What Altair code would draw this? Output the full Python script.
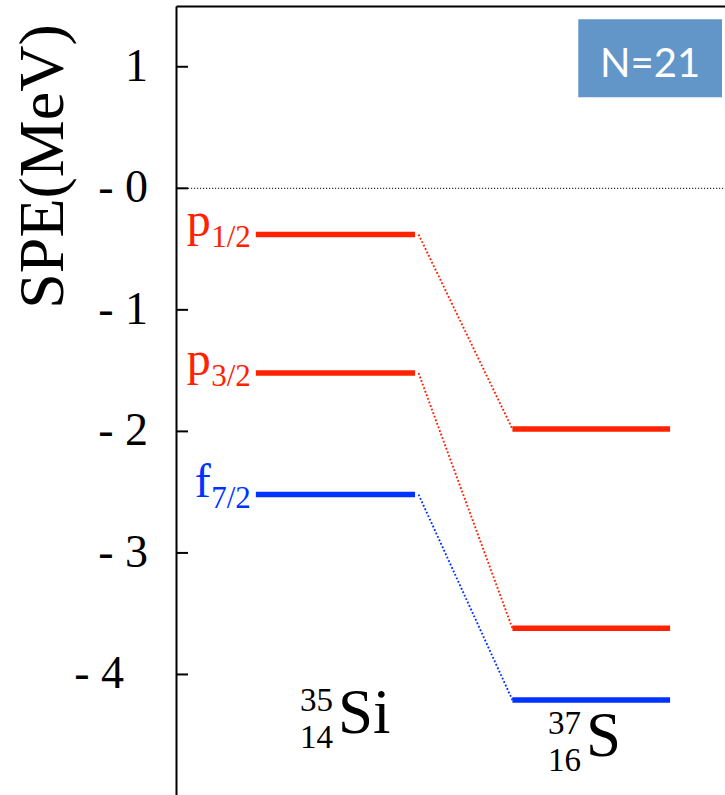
import altair as alt
import pandas as pd

# Single-particle energies (MeV) of the neutron orbitals above N=20
orbitals = ["p1/2", "p3/2", "f7/2"]
orbital_letter = ["p", "p", "f"]
orbital_j = ["1/2", "3/2", "7/2"]
orbital_color = ["#ff2200", "#ff2200", "#0033ff"]
spe_si35 = [-0.38, -1.52, -2.52]
spe_s37 = [-1.98, -3.62, -4.21]

# Nuclei shown in the two columns
nuc_mass = ["35", "37"]
nuc_z = ["14", "16"]
nuc_symbol = ["Si", "S"]

# Energy axis ticks and their printed labels
y_ticks = [1, 0, -1, -2, -3, -4]
y_tick_labels = ["1", "- 0", "- 1", "- 2", "- 3", "- 4"]
panel_tag = "N=21"

# Layout (x in column units, y in MeV)
X_DOMAIN = [0, 5.5]
Y_DOMAIN = [-5, 1.5]
SI_COL = (0.80, 2.395)
S_COL = (3.37, 4.95)
LINK_GAP = 0.035
NUC_X = [1.623, 4.108]
NUC_Y = [-4.48, -4.67]
TICK_LEN = 0.12
TAG_BOX = (4.03, 5.47, 0.75, 1.39)
LABEL_SHIFT = [-28, -28, -28, -28, -28, -52]   # px left of the axis line

SERIF = "Liberation Serif"

xscale = alt.Scale(domain=X_DOMAIN, nice=False, zero=False)
yscale = alt.Scale(domain=Y_DOMAIN, nice=False, zero=False)
xaxis = alt.Axis(orient="top", labels=False, ticks=False, grid=False, title=None,
                 domainColor="black", domainWidth=2)
yaxis = alt.Axis(
    orient="left", values=y_ticks, grid=False, ticks=False, tickSize=0,
    labels=False, domainColor="black", domainWidth=2,
    title="SPE(MeV)", titleFont=SERIF, titleFontSize=64, titleFontWeight="normal",
    titleColor="black", titleAngle=270, titleAlign="center",
    titleBaseline="alphabetic", titleX=-114, titleY=160,
)


def X(field):
    return alt.X(field, type="quantitative", scale=xscale, axis=xaxis)


def Y(field):
    return alt.Y(field, type="quantitative", scale=yscale, axis=yaxis)


levels = pd.DataFrame({
    "orbital": orbitals * 2,
    "color": orbital_color * 2,
    "e": spe_si35 + spe_s37,
    "x0": [SI_COL[0]] * 3 + [S_COL[0]] * 3,
    "x1": [SI_COL[1]] * 3 + [S_COL[1]] * 3,
})

links = pd.DataFrame({
    "orbital": orbitals * 2,
    "color": orbital_color * 2,
    "e": spe_si35 + spe_s37,
    "x": [SI_COL[1] + LINK_GAP] * 3 + [S_COL[0]] * 3,
    "order": [0] * 3 + [1] * 3,
})

level_labels = pd.DataFrame({
    "letter": orbital_letter,
    "j": orbital_j,
    "color": orbital_color,
    "e": spe_si35,
    "x": [SI_COL[0]] * 3,
})

nuclei = pd.DataFrame({
    "mass": nuc_mass, "z": nuc_z, "symbol": nuc_symbol,
    "x": NUC_X, "e": NUC_Y,
})

ticks = pd.DataFrame({"e": y_ticks, "x0": [0] * len(y_ticks),
                      "x1": [TICK_LEN] * len(y_ticks),
                      "label": y_tick_labels, "shift": LABEL_SHIFT})
zero_line = pd.DataFrame({"e": [0], "x0": [X_DOMAIN[0]], "x1": [X_DOMAIN[1]]})
tag = pd.DataFrame({"x0": [TAG_BOX[0]], "x1": [TAG_BOX[1]],
                    "y0": [TAG_BOX[2]], "y1": [TAG_BOX[3]],
                    "xc": [(TAG_BOX[0] + TAG_BOX[1]) / 2], "yt": [0.915],
                    "label": [panel_tag]})

zero = alt.Chart(zero_line).mark_rule(
    color="black", strokeWidth=1, strokeDash=[1.2, 1.8]
).encode(x=X("x0"), x2="x1", y=Y("e"))

# inward-pointing ticks and their labels
inner_ticks = alt.Chart(ticks).mark_rule(color="black", strokeWidth=2).encode(
    x=X("x0"), x2="x1", y=Y("e"))

tick_label_layers = [
    alt.Chart(ticks).transform_filter(f"datum.shift == {s}").mark_text(
        font=SERIF, fontSize=46, align="right", baseline="middle", color="black",
        dx=s
    ).encode(x=X("x0"), y=Y("e"), text="label:N")
    for s in sorted(set(LABEL_SHIFT))
]

level_rules = alt.Chart(levels).mark_rule(strokeWidth=5.5, strokeCap="butt").encode(
    x=X("x0"), x2="x1", y=Y("e"),
    color=alt.Color("color:N", scale=None), detail="orbital:N")

link_lines = alt.Chart(links).mark_line(strokeWidth=1.9, strokeDash=[1.8, 2.0]).encode(
    x=X("x"), y=Y("e"), order="order:Q",
    color=alt.Color("color:N", scale=None), detail="orbital:N")

label_main = alt.Chart(level_labels).mark_text(
    font=SERIF, fontSize=48, align="right", baseline="alphabetic", dx=-45, dy=2
).encode(x=X("x"), y=Y("e"), text="letter:N", color=alt.Color("color:N", scale=None))

label_sub = alt.Chart(level_labels).mark_text(
    font=SERIF, fontSize=31, align="right", baseline="alphabetic", dx=-5, dy=13
).encode(x=X("x"), y=Y("e"), text="j:N", color=alt.Color("color:N", scale=None))

nuc_sym = alt.Chart(nuclei).mark_text(
    font=SERIF, fontSize=63, align="left", baseline="alphabetic", color="black"
).encode(x=X("x"), y=Y("e"), text="symbol:N")

nuc_a = alt.Chart(nuclei).mark_text(
    font=SERIF, fontSize=33, align="right", baseline="alphabetic", color="black",
    dx=-5, dy=-22
).encode(x=X("x"), y=Y("e"), text="mass:N")

nuc_zl = alt.Chart(nuclei).mark_text(
    font=SERIF, fontSize=33, align="right", baseline="alphabetic", color="black",
    dx=-5, dy=15
).encode(x=X("x"), y=Y("e"), text="z:N")

tag_box = alt.Chart(tag).mark_rect(color="#6396c8").encode(
    x=X("x0"), x2="x1", y=Y("y0"), y2="y1")

tag_text = alt.Chart(tag).mark_text(
    font="Lato", fontSize=40, align="center", baseline="alphabetic", color="white"
).encode(x=X("xc"), y=Y("yt"), text="label:N")

chart = alt.layer(
    zero, inner_ticks, *tick_label_layers, link_lines, level_rules, label_main,
    label_sub, nuc_sym, nuc_a, nuc_zl, tag_box, tag_text
).properties(
    width=549, height=790,
    autosize=alt.AutoSizeParams(type="none"),
    padding={"left": 176, "top": 6, "right": 0, "bottom": 0},
).configure_view(stroke=None)

chart.save("out.html", embed_options={"renderer": "svg", "actions": False})
